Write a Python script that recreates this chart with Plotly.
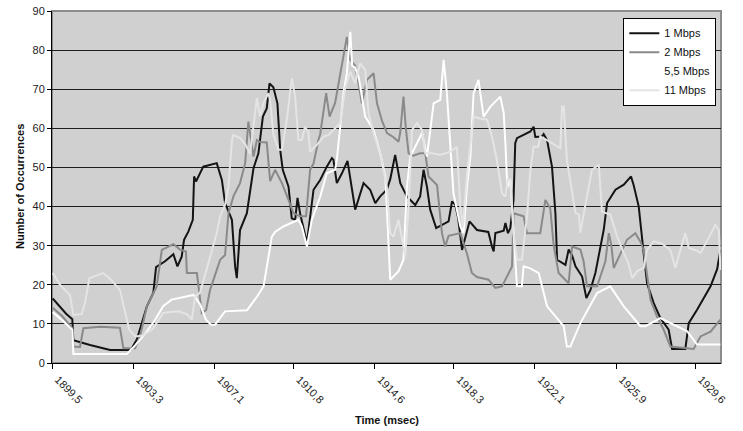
import plotly.graph_objects as go

# ---- data (time in msec, number of occurrences) ----
t_1mbps = [1899.53, 1899.87, 1900.16, 1900.45, 1900.50, 1901.28, 1902.22, 1903.19, 1903.47, 1903.94,
           1904.24, 1904.37, 1904.79, 1905.18, 1905.37, 1905.57, 1905.68, 1905.88, 1906.09, 1906.15,
           1906.24, 1906.58, 1907.21, 1907.45, 1907.60, 1907.92, 1908.07, 1908.15, 1908.30, 1908.62,
           1908.93, 1909.16, 1909.37, 1909.55, 1909.68, 1909.86, 1910.05, 1910.18, 1910.30, 1910.57,
           1910.72, 1910.88, 1910.99, 1911.11, 1911.43, 1911.74, 1912.05, 1912.36, 1912.60, 1912.67,
           1912.83, 1913.07, 1913.33, 1913.69, 1914.08, 1914.39, 1914.63, 1914.86, 1915.17, 1915.33,
           1915.56, 1915.80, 1916.11, 1916.50, 1916.73, 1916.89, 1917.05, 1917.20, 1917.48, 1918.06,
           1918.22, 1918.37, 1918.51, 1918.69, 1918.84, 1919.04, 1919.39, 1919.92, 1920.09, 1920.17,
           1920.25, 1920.64, 1920.72, 1920.84, 1920.95, 1921.10, 1921.18, 1921.26, 1921.89, 1922.04,
           1922.12, 1922.43, 1922.51, 1922.67, 1922.90, 1923.06, 1923.14, 1923.53, 1923.68, 1923.84,
           1924.00, 1924.31, 1924.51, 1924.70, 1924.93, 1925.32, 1925.48, 1925.87, 1926.26, 1926.60,
           1926.72, 1926.96, 1927.19, 1927.35, 1927.66, 1927.97, 1928.36, 1928.52, 1929.14, 1929.30,
           1929.69, 1930.32, 1930.63, 1930.78]
v_1mbps = [16.5, 14.3, 12.6, 11.2, 5.8, 4.6, 3.3, 3.3, 6.0, 14.5,
           17.9, 24.5, 26.0, 27.8, 24.7, 27.2, 31.5, 33.6, 36.6, 47.7,
           46.4, 50.2, 51.1, 46.8, 40.9, 36.6, 24.7, 21.7, 34.0, 38.3,
           49.8, 53.6, 63.0, 65.1, 71.5, 70.5, 66.4, 54.5, 49.4, 45.1,
           37.0, 36.6, 42.2, 38.3, 30.7, 44.3, 46.8, 50.2, 52.4, 52.0,
           46.0, 48.5, 51.7, 39.2, 46.0, 44.3, 40.9, 42.6, 44.3, 47.0,
           53.2, 46.0, 42.6, 40.4, 42.6, 49.4, 45.0, 39.2, 34.5, 36.2,
           41.3, 40.5, 37.0, 28.9, 32.0, 36.2, 34.0, 33.5, 29.8, 28.5,
           33.2, 33.8, 35.8, 33.2, 34.5, 41.7, 56.2, 57.5, 59.2, 60.4,
           57.8, 57.9, 58.5, 57.0, 50.2, 38.3, 26.4, 25.1, 29.0, 27.5,
           24.7, 22.1, 16.6, 18.7, 23.0, 34.0, 40.9, 44.3, 45.6, 47.7,
           45.5, 40.0, 28.1, 20.4, 15.3, 11.5, 8.5, 3.6, 3.6, 10.2,
           13.6, 19.6, 24.0, 28.9]

t_2mbps = [1899.53, 1899.97, 1900.45, 1900.50, 1900.81, 1900.97, 1901.75, 1902.68, 1902.84, 1903.39,
           1903.62, 1903.94, 1904.40, 1904.64, 1905.18, 1905.49, 1905.77, 1905.81, 1906.28, 1906.38,
           1906.51, 1906.71, 1906.90, 1907.37, 1907.60, 1907.76, 1907.99, 1908.30, 1908.54, 1908.69,
           1908.77, 1908.93, 1909.09, 1909.24, 1909.55, 1909.71, 1909.94, 1910.26, 1910.57, 1910.80,
           1911.11, 1911.39, 1911.58, 1911.74, 1911.97, 1912.05, 1912.33, 1912.49, 1912.75, 1912.99,
           1913.30, 1913.46, 1913.69, 1913.83, 1914.00, 1914.24, 1914.55, 1914.71, 1914.94, 1915.18,
           1915.47, 1915.72, 1915.80, 1915.95, 1916.06, 1916.19, 1916.41, 1916.73, 1916.97, 1917.12,
           1917.52, 1917.75, 1917.90, 1918.06, 1918.61, 1918.92, 1919.15, 1919.39, 1919.93, 1920.25,
           1920.56, 1921.03, 1921.10, 1921.57, 1921.73, 1922.35, 1922.59, 1922.82, 1922.98, 1923.21,
           1923.68, 1923.84, 1924.23, 1924.38, 1924.54, 1925.01, 1925.40, 1925.56, 1925.68, 1925.79,
           1926.10, 1926.41, 1926.80, 1927.04, 1927.19, 1927.36, 1927.51, 1927.82, 1928.13, 1928.44,
           1929.53, 1929.85, 1930.32, 1930.78]
v_2mbps = [14.1, 12.0, 8.9, 4.2, 4.1, 8.9, 9.3, 9.0, 3.8, 3.8,
           6.8, 14.5, 19.6, 28.9, 30.4, 29.0, 28.5, 23.0, 23.0, 18.0,
           12.8, 13.5, 18.7, 26.4, 27.6, 38.3, 42.6, 46.0, 51.1, 61.7,
           58.5, 52.8, 57.0, 56.5, 56.4, 46.5, 49.4, 46.0, 41.7, 38.3,
           37.5, 37.5, 49.4, 51.0, 57.0, 58.5, 69.0, 63.0, 66.5, 74.1,
           83.4, 77.5, 76.0, 72.0, 66.4, 72.4, 74.1, 66.4, 62.0, 58.8,
           57.8, 56.6, 59.0, 68.1, 60.0, 53.6, 53.0, 53.6, 53.6, 47.7,
           45.5, 33.2, 29.8, 32.5, 33.2, 28.0, 23.0, 22.0, 21.3, 19.2,
           19.6, 24.7, 38.3, 37.5, 33.2, 33.2, 41.7, 39.5, 30.0, 23.0,
           20.4, 29.8, 29.0, 26.0, 19.6, 19.6, 26.0, 33.2, 30.0, 24.3,
           28.0, 31.5, 33.2, 31.0, 28.9, 22.0, 16.2, 11.8, 8.5, 4.2,
           3.6, 6.8, 8.0, 11.1]

t_55mbps = [1899.53, 1899.97, 1900.45, 1900.50, 1903.01, 1903.39, 1903.86, 1904.32, 1904.70, 1905.10,
            1906.12, 1906.43, 1906.71, 1906.95, 1907.13, 1907.60, 1908.63, 1909.10, 1909.40, 1909.79,
            1909.94, 1910.33, 1911.03, 1911.19, 1911.43, 1911.66, 1912.05, 1912.36, 1912.75, 1912.83,
            1912.99, 1913.14, 1913.30, 1913.46, 1913.55, 1913.69, 1913.85, 1913.92, 1914.16, 1914.55,
            1914.86, 1915.10, 1915.33, 1915.72, 1915.95, 1916.11, 1916.27, 1916.58, 1916.82, 1917.05,
            1917.36, 1917.67, 1917.83, 1917.98, 1918.14, 1918.29, 1918.61, 1918.76, 1918.92, 1919.08,
            1919.23, 1919.46, 1919.70, 1920.01, 1920.48, 1920.64, 1920.72, 1920.81, 1920.95, 1921.10,
            1921.26, 1921.49, 1921.57, 1921.89, 1922.28, 1922.67, 1923.45, 1923.60, 1923.76, 1924.23,
            1925.01, 1925.63, 1926.26, 1927.04, 1927.28, 1927.97, 1928.60, 1929.23, 1929.69, 1930.78]
v_55mbps = [13.0, 11.0, 8.5, 2.3, 2.3, 4.5, 7.5, 11.0, 14.5, 16.2,
            17.4, 15.0, 11.0, 9.8, 9.8, 13.2, 13.5, 17.0, 19.6, 32.3,
            33.5, 34.9, 36.6, 35.0, 29.8, 36.6, 42.5, 48.5, 49.4, 52.0,
            60.4, 69.0, 74.0, 84.7, 76.0, 75.5, 73.2, 70.7, 63.0, 59.6,
            53.6, 47.7, 21.3, 23.5, 26.4, 45.0, 52.8, 56.2, 58.8, 52.8,
            66.4, 67.3, 77.5, 69.0, 57.0, 43.4, 34.9, 33.2, 45.0, 52.8,
            69.0, 72.4, 63.0, 65.5, 68.1, 64.0, 56.0, 45.0, 46.8, 33.0,
            19.6, 19.6, 24.7, 24.2, 23.0, 14.5, 9.4, 4.2, 4.2, 10.2,
            17.9, 19.6, 14.5, 9.4, 9.4, 11.5, 9.8, 8.1, 4.7, 4.7]

t_11mbps = [1899.53, 1899.87, 1900.34, 1900.50, 1900.89, 1901.05, 1901.25, 1901.90, 1902.22, 1902.68,
            1902.92, 1903.12, 1903.39, 1903.76, 1904.24, 1904.70, 1905.40, 1905.81, 1906.04, 1906.20,
            1906.43, 1906.82, 1907.04, 1907.21, 1907.37, 1907.60, 1907.76, 1907.92, 1907.99, 1908.30,
            1908.54, 1908.77, 1909.09, 1909.24, 1909.40, 1909.63, 1909.71, 1909.86, 1910.10, 1910.26,
            1910.49, 1910.72, 1910.88, 1911.03, 1911.19, 1911.34, 1911.50, 1911.58, 1911.90, 1912.21,
            1912.44, 1912.67, 1912.99, 1913.22, 1913.46, 1913.69, 1913.92, 1914.16, 1914.31, 1914.55,
            1914.86, 1915.17, 1915.33, 1915.48, 1915.72, 1916.03, 1916.19, 1916.35, 1916.58, 1916.82,
            1916.97, 1917.29, 1917.67, 1918.14, 1918.45, 1918.61, 1918.73, 1918.92, 1919.23, 1919.54,
            1919.86, 1920.09, 1920.32, 1920.56, 1920.72, 1920.83, 1920.95, 1921.10, 1921.26, 1921.49,
            1921.73, 1921.89, 1922.04, 1922.26, 1922.35, 1922.67, 1922.96, 1923.29, 1923.37, 1923.45,
            1923.60, 1923.84, 1924.00, 1924.16, 1924.23, 1924.38, 1924.54, 1924.77, 1925.09, 1925.24,
            1925.63, 1925.95, 1926.26, 1926.48, 1926.65, 1926.89, 1927.19, 1927.35, 1927.66, 1928.05,
            1928.44, 1928.67, 1928.91, 1929.14, 1929.30, 1929.69, 1929.85, 1930.24, 1930.55, 1930.71,
            1930.78]
v_11mbps = [23.0, 20.0, 17.4, 12.3, 12.5, 15.5, 21.7, 23.0, 21.5, 18.7,
            13.0, 8.5, 6.8, 7.0, 8.9, 12.8, 13.2, 12.5, 11.1, 17.0,
            18.0, 25.5, 30.0, 33.2, 37.5, 40.5, 45.1, 57.0, 58.3, 57.5,
            56.0, 53.5, 67.7, 63.0, 66.5, 69.0, 67.0, 58.5, 54.5, 54.5,
            62.2, 72.8, 68.1, 57.0, 57.0, 60.4, 59.0, 54.0, 55.8, 57.9,
            58.3, 59.6, 61.3, 70.3, 74.5, 71.5, 76.6, 74.9, 63.9, 58.8,
            53.6, 45.1, 33.2, 32.3, 36.6, 27.2, 40.0, 59.6, 61.3, 59.6,
            53.6, 53.6, 53.2, 54.0, 55.3, 40.0, 34.9, 48.0, 63.0, 62.5,
            62.2, 57.9, 51.9, 43.4, 42.6, 47.0, 47.0, 33.2, 26.4, 26.4,
            37.5, 49.4, 55.3, 55.3, 57.9, 57.0, 56.0, 54.9, 65.6, 65.6,
            51.9, 44.0, 38.3, 38.0, 33.2, 38.0, 42.6, 49.4, 50.7, 38.7,
            37.9, 32.3, 28.1, 25.5, 21.7, 23.5, 24.3, 28.9, 31.1, 30.5,
            28.9, 24.3, 28.9, 33.2, 29.4, 28.7, 28.1, 31.9, 35.3, 34.0,
            23.8]

series_names = ["1 Mbps", "2 Mbps", "5,5 Mbps", "11 Mbps"]
tick_vals = [1899.5, 1903.3, 1907.1, 1910.8, 1914.6, 1918.3, 1922.1, 1925.9, 1929.6]
tick_text = ["1899,5", "1903,3", "1907,1", "1910,8", "1914,6", "1918,3", "1922,1", "1925,9", "1929,6"]
y_ticks = [0, 10, 20, 30, 40, 50, 60, 70, 80, 90]

colors = ["#141414", "#8a8a8a", "#ffffff", "#e4e4e4"]
FONT = "Liberation Sans, Arial, sans-serif"

fig = go.Figure()
for name, t, v, c in zip(series_names,
                         [t_1mbps, t_2mbps, t_55mbps, t_11mbps],
                         [v_1mbps, v_2mbps, v_55mbps, v_11mbps],
                         colors):
    fig.add_trace(go.Scatter(x=t, y=v, mode="lines", name=name,
                             line=dict(color=c, width=2)))

fig.update_layout(
    width=743, height=431,
    margin=dict(l=52, r=22, t=11, b=68, autoexpand=False),
    paper_bgcolor="white",
    plot_bgcolor="#d0d0d0",
    font=dict(family=FONT, size=11, color="#222222"),
    showlegend=True,
    legend=dict(x=0.854, y=0.981, xanchor="left", yanchor="top",
                bgcolor="white", bordercolor="black", borderwidth=1,
                font=dict(family=FONT, size=11, color="#111111"),
                itemwidth=30, tracegroupgap=0),
    shapes=[dict(type="rect", xref="paper", yref="paper", x0=0, x1=1, y0=0, y1=1,
                 line=dict(color="#8c8c8c", width=2), fillcolor="rgba(0,0,0,0)", layer="below")],
    annotations=[
        dict(text="<b>Time (msec)</b>", xref="paper", yref="paper", x=0.5, y=0,
             yshift=-57, showarrow=False, font=dict(family=FONT, size=11, color="#111111"),
             xanchor="center", yanchor="middle"),
        dict(text="<b>Number of Occurrences</b>", xref="paper", yref="paper", x=0, y=0.5,
             xshift=-32, showarrow=False, textangle=-90,
             font=dict(family=FONT, size=11, color="#111111"),
             xanchor="center", yanchor="middle"),
    ],
)

fig.update_xaxes(range=[1899.5, 1930.81], tickmode="array", tickvals=tick_vals, ticktext=tick_text,
                 tickangle=45, ticks="outside", ticklen=5, tickcolor="black", automargin=False,
                 ticklabelshift=6,
                 showline=True, linecolor="black", linewidth=1, showgrid=False, zeroline=False,
                 tickfont=dict(family=FONT, size=11, color="#222222"))
fig.update_yaxes(range=[0, 90], tickmode="array", tickvals=y_ticks, ticks="outside", ticklen=4,
                 tickcolor="black", showline=True, linecolor="black", linewidth=1, automargin=False,
                 showgrid=True, gridcolor="#1e1e1e", gridwidth=1, zeroline=False,
                 tickfont=dict(family=FONT, size=11, color="#222222"))

fig.write_html("out.html")
